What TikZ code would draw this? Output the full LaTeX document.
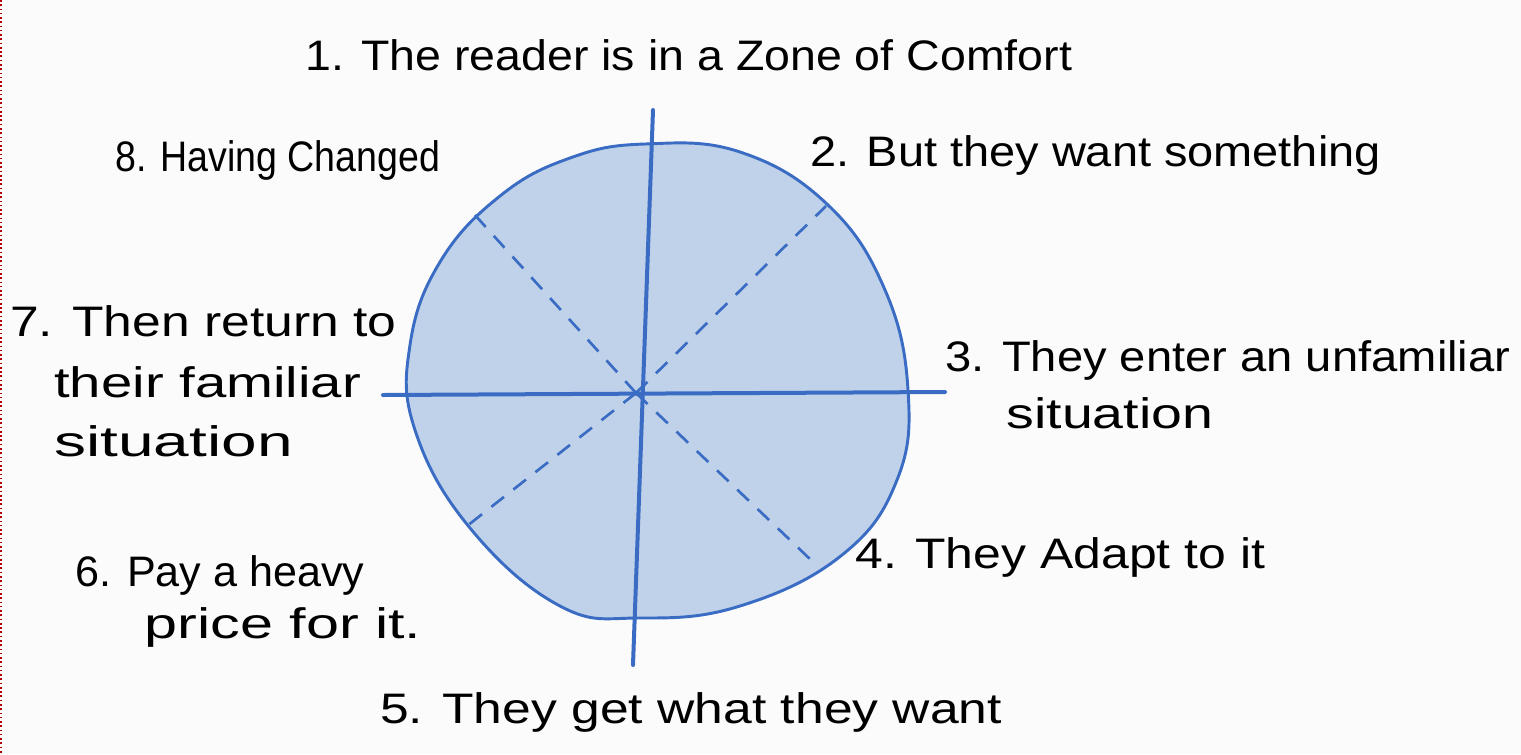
\documentclass[tikz,border=0pt]{standalone}
\usepackage{fontspec}
\usepackage{graphicx}
\setmainfont{Liberation Sans}
\newcommand{\sx}[2]{\scalebox{#1}[1]{#2}}
\begin{document}
\begin{tikzpicture}[x=0.75pt,y=-0.75pt,
  lbl/.style={font=\fontsize{32}{43}\selectfont, text=black, inner sep=0pt, align=left},
  axis/.style={draw=bluestroke, line width=3pt, line cap=round},
  diag/.style={draw=bluestroke, line width=2pt, dash pattern=on 12pt off 9pt},
  blob/.style={draw=bluestroke, fill=bluefill, line width=2.2pt}]
\definecolor{bluefill}{RGB}{192,210,233}
\definecolor{bluestroke}{RGB}{58,108,196}
\useasboundingbox (0,0) rectangle (1521,754);
\fill[white!97!gray] (0,0) rectangle (1521,754);
\draw[red!70!black, line width=1.2pt, dotted] (1,0) -- (1,754);
% circle blob
\draw[blob] plot[smooth cycle, tension=0.7] coordinates {
 (645,144) (740,152) (828,205) (885,290) (908,390) (897,480) (842,555)
 (740,606) (640,618) (560,606) (470,528) (415,430) (410,345) (440,262)
 (500,196) (570,158)};
% centre and ends
\coordinate (c) at (636,393);
\coordinate (ur) at (826,206);
\coordinate (ul) at (474,214);
\coordinate (ll) at (467,526);
\coordinate (lr) at (811,560);
\coordinate (top) at (653,110);
\coordinate (bot) at (633,665);
\coordinate (lft) at (383,395);
\coordinate (rgt) at (945,392);
\draw[diag] (c) -- (ur);
\draw[diag] (c) -- (ul);
\draw[diag] (c) -- (ll);
\draw[diag] (c) -- (lr);
\draw[axis] (top) -- (bot);
\draw[axis] (lft) -- (rgt);
% labels
\node[lbl, anchor=west] (t1) at (305,55) {\sx{1.09}{1. The reader is in a Zone of Comfort}};
\node[lbl, anchor=west] (t2) at (810,155) {\sx{1.10}{2. But they want something}};
\node[lbl, anchor=west] (t8) at (115,160) {\sx{0.88}{8. Having Changed}};
\node[lbl, anchor=north west] (t7) at (10,305) {\sx{1.21}{7. Then return to}\\[3pt]\hspace*{33pt}\sx{1.32}{their familiar}\\[1pt]\hspace*{33pt}\sx{1.5}{situation}};
\node[lbl, anchor=north west] (t3) at (945,340) {\sx{1.105}{3. They enter an unfamiliar}\\\hspace*{46pt}\sx{1.3}{situation}};
\node[lbl, anchor=north west] (t6) at (75,555) {\sx{1.01}{6. Pay a heavy}\\[-4pt]\hspace*{52pt}\sx{1.39}{price for it.}};
\node[lbl, anchor=west] (t4) at (855,557) {\sx{1.17}{4. They Adapt to it}};
\node[lbl, anchor=west] (t5) at (380,712) {\sx{1.21}{5. They get what they want}};
\end{tikzpicture}
\end{document}
